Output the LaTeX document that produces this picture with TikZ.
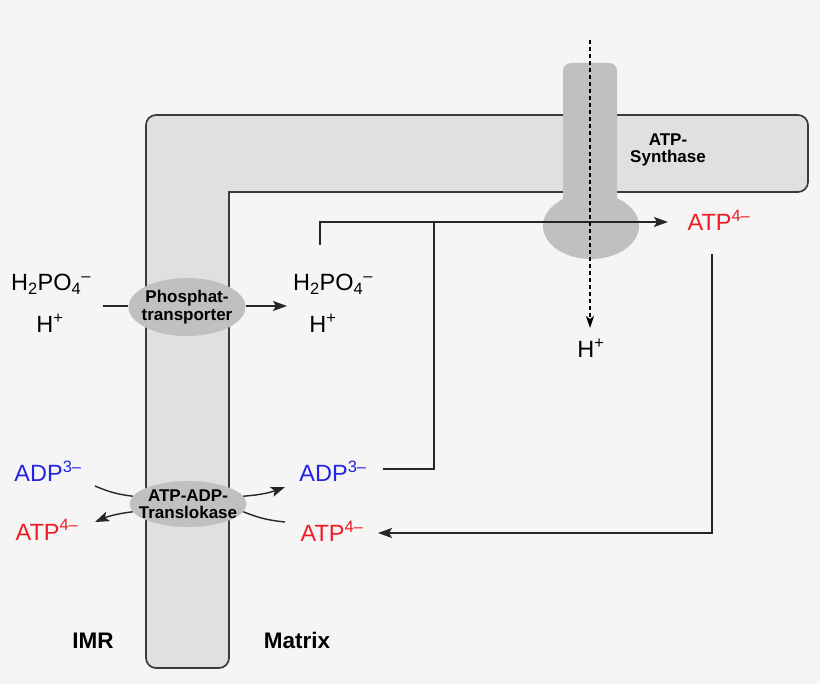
\documentclass[tikz,border=0pt]{standalone}
\usepackage{fontspec}
\setmainfont{Liberation Sans}
\usetikzlibrary{shapes.geometric,arrows.meta}
\definecolor{bg}{HTML}{F5F5F5}
\definecolor{memfill}{HTML}{E0E0E0}
\definecolor{memline}{HTML}{3A3A3A}
\definecolor{enz}{HTML}{C0C0C0}
\definecolor{atpred}{HTML}{EE1C25}
\definecolor{adpblue}{HTML}{2323E6}
\begin{document}
\begin{tikzpicture}[x=1pt,y=-1pt,
  chem/.style={font=\fontsize{23.5}{27}\selectfont, anchor=base, inner sep=0},
  boldlbl/.style={font=\fontsize{22.5}{26}\selectfont\bfseries, anchor=base, inner sep=0},
  enzshape/.style={ellipse, fill=enz, draw=none, inner sep=0},
  enztext/.style={font=\fontsize{17}{17.5}\selectfont\bfseries, align=center, inner sep=0},
  membrane/.style={fill=memfill, draw=memline, line width=1.7pt},
  flow/.style={line width=1.4pt, draw=black!85},
  tip/.style={-{Stealth[length=14pt,width=10pt,inset=3pt]}},
  smalltip/.style={-{Stealth[length=12pt,width=8pt,inset=3pt]}},
]
\useasboundingbox (0,0) rectangle (820,684);
\fill[bg] (0,0) rectangle (820,684);

% membrane (L shape)
\path[membrane] (229,192) -- (229,658) arc[start angle=0,end angle=90,radius=10]
  -- (156,668) arc[start angle=90,end angle=180,radius=10]
  -- (146,125) arc[start angle=180,end angle=270,radius=10]
  -- (798,115) arc[start angle=270,end angle=360,radius=10]
  -- (808,182) arc[start angle=0,end angle=90,radius=10]
  -- cycle;

% ATP synthase
\fill[enz, rounded corners=8pt] (563,63) rectangle (617,230);
\fill[enz] (591,226) ellipse[x radius=48, y radius=33];
\node[enztext] (synl) at (668,150) {ATP-\\Synthase};

% transporters
\node[enzshape, minimum width=117pt, minimum height=58pt] (pt) at (187,307) {};
\node[enztext] (ptl) at (pt.center) {Phosphat-\\transporter};
\node[enzshape, minimum width=117pt, minimum height=46pt] (tl) at (188,504) {};
\node[enztext] (tll) at (tl.center) {ATP-ADP-\\Translokase};

% texts
\node[chem] (hpoL) at (51,291) {H\textsubscript{2}PO\textsubscript{4}\textsuperscript{–}};
\node[chem] (hL) at (50,333) {H\textsuperscript{+}};
\node[chem] (hpoR) at (333,291) {H\textsubscript{2}PO\textsubscript{4}\textsuperscript{–}};
\node[chem] (hR) at (323,333) {H\textsuperscript{+}};
\node[chem, text=adpblue] (adpL) at (48,482) {ADP\textsuperscript{3–}};
\node[chem, text=atpred] (atpL) at (47,540) {ATP\textsuperscript{4–}};
\node[chem, text=adpblue] (adpR) at (333,482) {ADP\textsuperscript{3–}};
\node[chem, text=atpred] (atpR) at (332,542) {ATP\textsuperscript{4–}};
\node[chem, text=atpred] (atpS) at (719,231) {ATP\textsuperscript{4–}};
\node[chem] (hS) at (591,358) {H\textsuperscript{+}};
\node[boldlbl] (imr) at (93,648) {IMR};
\node[boldlbl] (mat) at (297,648) {Matrix};

% phosphate transporter arrows
\coordinate (pin) at (103,306);
\coordinate (pout) at (287,306);
\draw[flow] (pin) -- (pt.west |- pin);
\draw[flow,tip] (pt.east |- pout) -- (pout);

% translocase arrows
\coordinate (la) at (95,486);
\coordinate (lb) at (95,522);
\coordinate (ra) at (285,487);
\coordinate (rb) at (285,522);
\draw[flow] (la) to[bend right=8] (tl.172);
\draw[flow,tip] (tl.188) to[bend right=8] (lb);
\draw[flow,tip] (tl.8) to[bend right=8] (ra);
\draw[flow] (tl.352) to[bend right=8] (rb);

% matrix pathways
\coordinate (s0) at (320,245);
\coordinate (sEnd) at (668,222);
\draw[flow,tip] (s0) |- (sEnd);
\coordinate (a0) at (383,469);
\coordinate (a1) at (434,222);
\draw[flow] (a0) -| (a1);
\coordinate (r0) at (712,254);
\coordinate (r1) at (378,533);
\draw[flow,tip] (r0) |- (r1);

% proton flow through synthase
\coordinate (d0) at (590,40);
\coordinate (d1) at (590,328);
\draw[line width=1.4pt, dash pattern=on 4pt off 3pt, smalltip] (d0) -- (d1);
\end{tikzpicture}
\end{document}
